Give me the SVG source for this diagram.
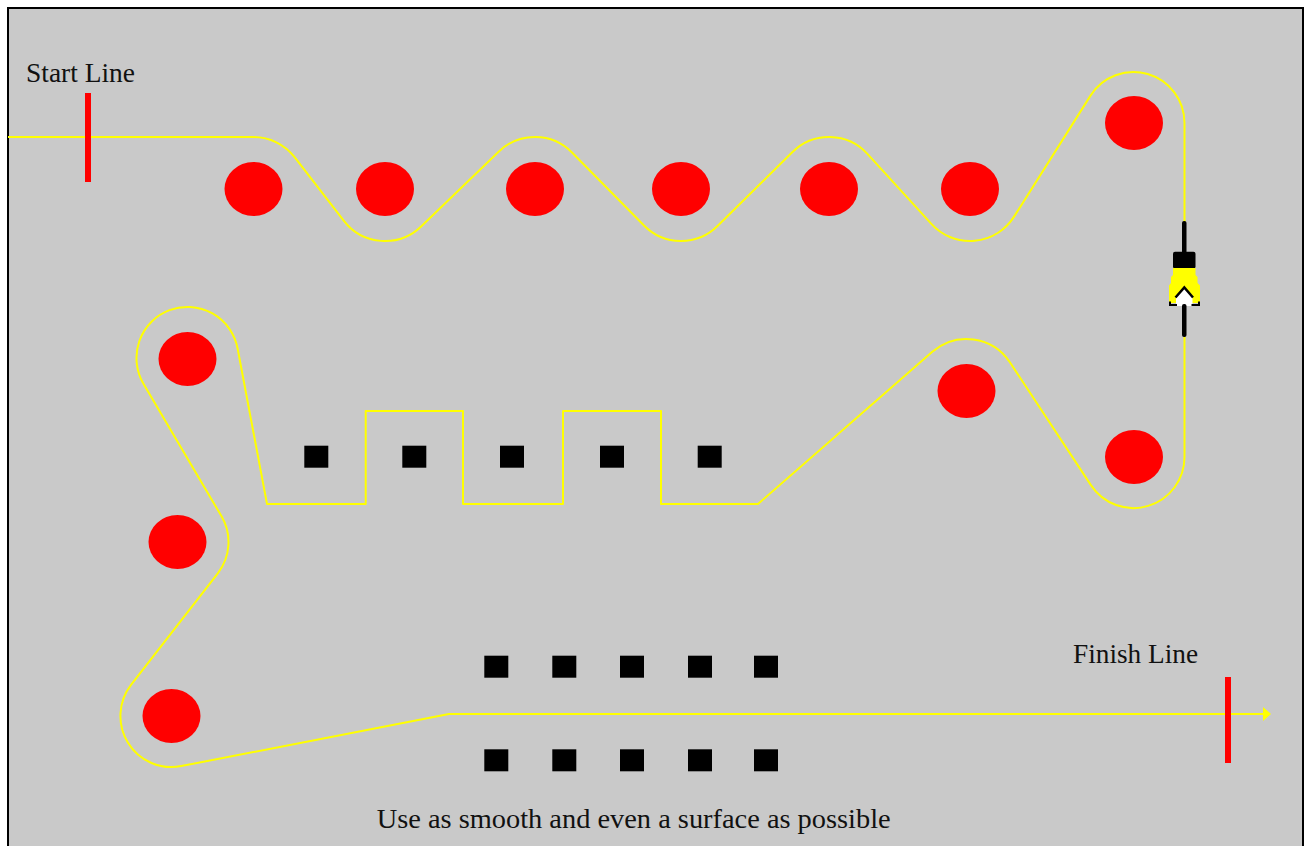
<svg xmlns="http://www.w3.org/2000/svg" width="1307" height="846" viewBox="0 0 1307 846">
<defs>
<style>
.cone{fill:#ff0000}
.block{fill:#000000}
.bar{fill:#ff0000}
.lbl{font-family:"Liberation Serif","Times New Roman",serif;font-size:27px;fill:#111111}
.track{fill:none;stroke:#ffff00;stroke-width:2;stroke-linejoin:round}
</style>
<marker id="arrow" viewBox="0 0 8 14" markerWidth="8" markerHeight="14" refX="1" refY="7" orient="auto" markerUnits="userSpaceOnUse">
<path d="M0,0 L8,7 L0,14 Z" fill="#ffff00"/>
</marker>
</defs>
<rect x="0" y="0" width="1307" height="846" fill="#ffffff"/>
<rect id="frame" x="8" y="8" width="1295" height="860" fill="#c9c9c9" stroke="#000000" stroke-width="2"/>

<g id="connectors">
<path class="track" marker-end="url(#arrow)" d="M8 137 H253.5 A52 52 0 0 1 294.6 157.2 L343.9 220.8 A52 52 0 0 0 421.1 226.5 L498.9 151.5 A52 52 0 0 1 572 152.5 L644 225.5 A52 52 0 0 0 717.5 226 L792.5 152 A52 52 0 0 1 867.4 153.9 L931.6 224.1 A52 52 0 0 0 1013.9 216.9 L1090.5 95.6 A51 51 0 0 1 1184.5 123 V222 M1184.5 337 V457 A51 51 0 0 1 1090.9 485.1 L1009.9 362.3 A52 52 0 0 0 932.3 351.8 L758 504 H661 V411 H563 V504 H463 V411 H365.7 V504 H267 L237.6 348.5 A51 51 0 1 0 143.6 383.9 L221.4 516.1 A51 51 0 0 1 217.8 573.3 L131.2 684.7 A51 51 0 0 0 181.2 766.1 L449 714 H1264"/>
</g>

<g id="start-line">
<rect class="bar" x="85" y="93" width="6" height="89"/>
<text class="lbl" x="26" y="82" textLength="109" lengthAdjust="spacingAndGlyphs">Start Line</text>
</g>

<g id="finish-line">
<rect class="bar" x="1225" y="677" width="6" height="86"/>
<text class="lbl" x="1073" y="663" textLength="125" lengthAdjust="spacingAndGlyphs">Finish Line</text>
</g>

<g id="cones-top">
<ellipse class="cone" cx="253.5" cy="189" rx="29" ry="27"/>
<ellipse class="cone" cx="385" cy="189" rx="29" ry="27"/>
<ellipse class="cone" cx="535" cy="189" rx="29" ry="27"/>
<ellipse class="cone" cx="681" cy="189" rx="29" ry="27"/>
<ellipse class="cone" cx="829" cy="189" rx="29" ry="27"/>
<ellipse class="cone" cx="970" cy="189" rx="29" ry="27"/>
<ellipse class="cone" cx="1134" cy="123" rx="29" ry="27"/>
</g>

<g id="cones-right">
<ellipse class="cone" cx="966.5" cy="391" rx="29" ry="27"/>
<ellipse class="cone" cx="1134" cy="457" rx="29" ry="27"/>
</g>

<g id="cones-left">
<ellipse class="cone" cx="187.5" cy="359" rx="29" ry="27"/>
<ellipse class="cone" cx="177.5" cy="542" rx="29" ry="27"/>
<ellipse class="cone" cx="171.5" cy="716" rx="29" ry="27"/>
</g>

<g id="blocks-middle">
<rect class="block" x="304.3" y="445.7" width="24" height="22"/>
<rect class="block" x="402.3" y="445.7" width="24" height="22"/>
<rect class="block" x="500" y="445.7" width="24" height="22"/>
<rect class="block" x="600" y="445.7" width="24" height="22"/>
<rect class="block" x="697.7" y="445.7" width="24" height="22"/>
</g>

<g id="blocks-upper">
<rect class="block" x="484.3" y="655.7" width="24" height="22"/>
<rect class="block" x="552.3" y="655.7" width="24" height="22"/>
<rect class="block" x="620" y="655.7" width="24" height="22"/>
<rect class="block" x="688" y="655.7" width="24" height="22"/>
<rect class="block" x="754" y="655.7" width="24" height="22"/>
</g>

<g id="blocks-lower">
<rect class="block" x="484.3" y="749.3" width="24" height="22"/>
<rect class="block" x="552.3" y="749.3" width="24" height="22"/>
<rect class="block" x="620" y="749.3" width="24" height="22"/>
<rect class="block" x="688" y="749.3" width="24" height="22"/>
<rect class="block" x="754" y="749.3" width="24" height="22"/>
</g>

<g id="car">
<rect x="1182" y="221" width="4.5" height="34" rx="2" fill="#000000"/>
<rect x="1173" y="251.7" width="22.5" height="17" rx="2" fill="#000000"/>
<path d="M1173 268 H1195.5 V275 L1197.5 277 V283 L1200 285.5 V303 H1169 V285.5 L1171 283 V277 L1173 275 Z" fill="#ffff00"/>
<path d="M1184.3 287 L1192.5 296 V306 H1176 V296 Z" fill="#ffffff"/>
<path d="M1175.5 297.5 L1184.3 287.5 L1193 297.5" fill="none" stroke="#000000" stroke-width="2.5"/>
<path d="M1170 301.5 V305 H1177 M1199 301.5 V305 H1191.5" fill="none" stroke="#000000" stroke-width="2"/>
<rect x="1182" y="304" width="4.5" height="33" rx="2" fill="#000000"/>
</g>

<g id="note">
<text class="lbl" x="376.7" y="828" textLength="514" lengthAdjust="spacingAndGlyphs">Use as smooth and even a surface as possible</text>
</g>
</svg>
